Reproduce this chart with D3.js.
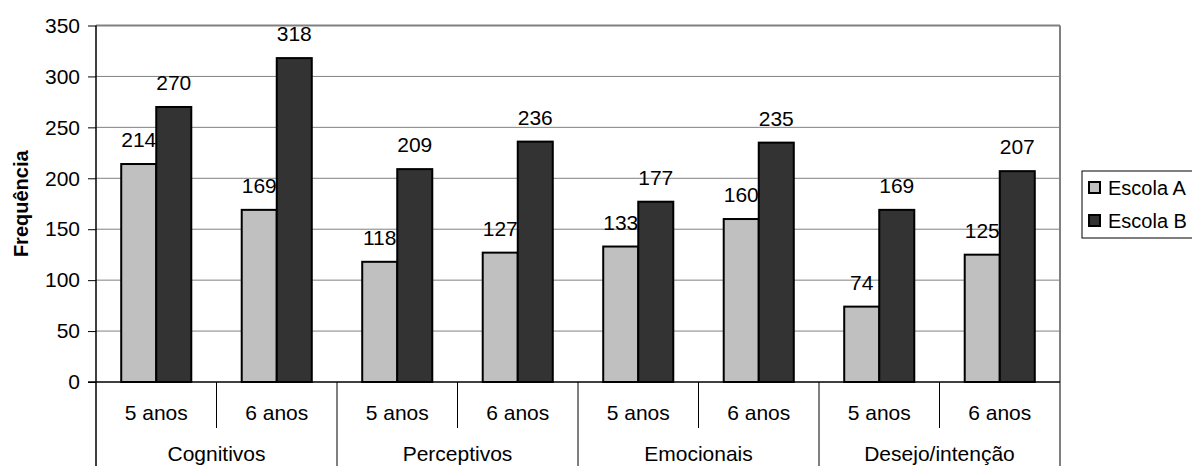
<!DOCTYPE html>
<html>
<head>
<meta charset="utf-8">
<script src="https://cdn.jsdelivr.net/npm/d3@7"></script>
<style>
  html, body { margin: 0; padding: 0; background: #fff; }
  svg { display: block; font-family: Arial, "Liberation Sans", sans-serif; }
</style>
</head>
<body>
<svg id="chart" width="1192" height="466"></svg>
<script>
// Frequência por categoria, idade e escola
const categories = ["Cognitivos", "Perceptivos", "Emocionais", "Desejo/intenção"];
const ages = ["5 anos", "6 anos"];
const seriesNames = ["Escola A", "Escola B"];
const escolaA = [214, 169, 118, 127, 133, 160, 74, 125];
const escolaB = [270, 318, 209, 236, 177, 235, 169, 207];
const yTicks = [0, 50, 100, 150, 200, 250, 300, 350];
const colors = ["#c0c0c0", "#333333"];

const svg = d3.select("#chart");
const plotLeft = 96, plotRight = 1060, plotTop = 25.5, plotBottom = 382;
const fontSize = 21;

// one slot per (category, age) pair
const slots = [];
categories.forEach((c, ci) => ages.forEach((a, ai) => slots.push({ cat: c, age: a, i: ci * ages.length + ai })));
const values = [escolaA, escolaB];

const x = d3.scaleBand().domain(slots.map(d => d.i)).range([plotLeft, plotRight]).padding(0);
const xs = d3.scaleBand().domain(seriesNames).range([0, x.bandwidth()]).paddingInner(0).paddingOuter(0.72);
const y = d3.scaleLinear().domain([0, 350]).range([plotBottom, plotTop]);

// gridlines
svg.append("g").selectAll("line").data(yTicks.filter(t => t > 0 && t < 350)).join("line")
  .attr("x1", plotLeft).attr("x2", plotRight)
  .attr("y1", d => y(d)).attr("y2", d => y(d))
  .attr("stroke", "#808080").attr("stroke-width", 1);

// plot border (top and right)
svg.append("line").attr("x1", plotLeft).attr("x2", plotRight).attr("y1", y(350)).attr("y2", y(350))
  .attr("stroke", "#808080").attr("stroke-width", 2);
svg.append("line").attr("x1", plotRight).attr("x2", plotRight).attr("y1", y(350)).attr("y2", plotBottom)
  .attr("stroke", "#808080").attr("stroke-width", 2);

// y axis
const yAxis = svg.append("g").attr("transform", `translate(${plotLeft},0)`)
  .call(d3.axisLeft(y).tickValues(yTicks).tickSize(8).tickPadding(8).tickSizeOuter(0));
yAxis.select(".domain").remove();
yAxis.selectAll(".tick line").attr("stroke", "#000").attr("stroke-width", 1);
yAxis.selectAll(".tick text").attr("font-size", fontSize)
  .attr("font-family", "Arial, 'Liberation Sans', sans-serif").attr("fill", "#000");

// bars and value labels, series by series so later bars sit over earlier labels
seriesNames.forEach((s, si) => {
  const g = svg.append("g");
  g.selectAll("rect").data(slots).join("rect")
    .attr("x", d => x(d.i) + xs(s))
    .attr("y", d => y(values[si][d.i]))
    .attr("width", xs.bandwidth())
    .attr("height", d => plotBottom - y(values[si][d.i]))
    .attr("fill", colors[si])
    .attr("stroke", "#000").attr("stroke-width", 2);
  g.selectAll("text").data(slots).join("text")
    .attr("x", d => x(d.i) + xs(s) + xs.bandwidth() / 2)
    .attr("y", d => y(values[si][d.i]) - 17)
    .attr("text-anchor", "middle")
    .attr("font-size", fontSize)
    .text(d => values[si][d.i]);
});

// y axis line and x axis line
svg.append("line").attr("x1", plotLeft).attr("x2", plotLeft).attr("y1", y(350)).attr("y2", 466)
  .attr("stroke", "#000").attr("stroke-width", 1.5);
svg.append("line").attr("x1", plotLeft - 8).attr("x2", plotRight).attr("y1", plotBottom).attr("y2", plotBottom)
  .attr("stroke", "#000").attr("stroke-width", 1.5);

// hierarchical x axis: separators between ages and between categories
svg.append("g").selectAll("line").data(slots.slice(1)).join("line")
  .attr("x1", d => x(d.i)).attr("x2", d => x(d.i))
  .attr("y1", plotBottom)
  .attr("y2", d => (d.i % ages.length === 0) ? 466 : 428)
  .attr("stroke", "#000").attr("stroke-width", 1);
svg.append("line").attr("x1", plotRight).attr("x2", plotRight).attr("y1", plotBottom).attr("y2", 466)
  .attr("stroke", "#000").attr("stroke-width", 1);

svg.append("g").selectAll("text").data(slots).join("text")
  .attr("x", d => x(d.i) + x.bandwidth() / 2)
  .attr("y", 420)
  .attr("text-anchor", "middle").attr("font-size", fontSize)
  .text(d => d.age);

svg.append("g").selectAll("text").data(categories).join("text")
  .attr("x", (d, ci) => x(ci * ages.length) + x.bandwidth())
  .attr("y", 461)
  .attr("text-anchor", "middle").attr("font-size", fontSize)
  .text(d => d);

// y axis title
svg.append("text")
  .attr("transform", `translate(28,${(plotTop + plotBottom) / 2}) rotate(-90)`)
  .attr("text-anchor", "middle").attr("font-size", 20).attr("font-weight", "bold")
  .text("Frequência");

// legend
const lg = svg.append("g").attr("transform", "translate(1082,171)");
lg.append("rect").attr("width", 140).attr("height", 67).attr("fill", "#fff")
  .attr("stroke", "#000").attr("stroke-width", 1);
seriesNames.forEach((s, si) => {
  const row = lg.append("g").attr("transform", `translate(7,${11 + si * 33})`);
  row.append("rect").attr("width", 11).attr("height", 11)
    .attr("fill", colors[si]).attr("stroke", "#000").attr("stroke-width", 2);
  row.append("text").attr("x", 19).attr("y", 13).attr("font-size", 20).text(s);
});
</script>
</body>
</html>
